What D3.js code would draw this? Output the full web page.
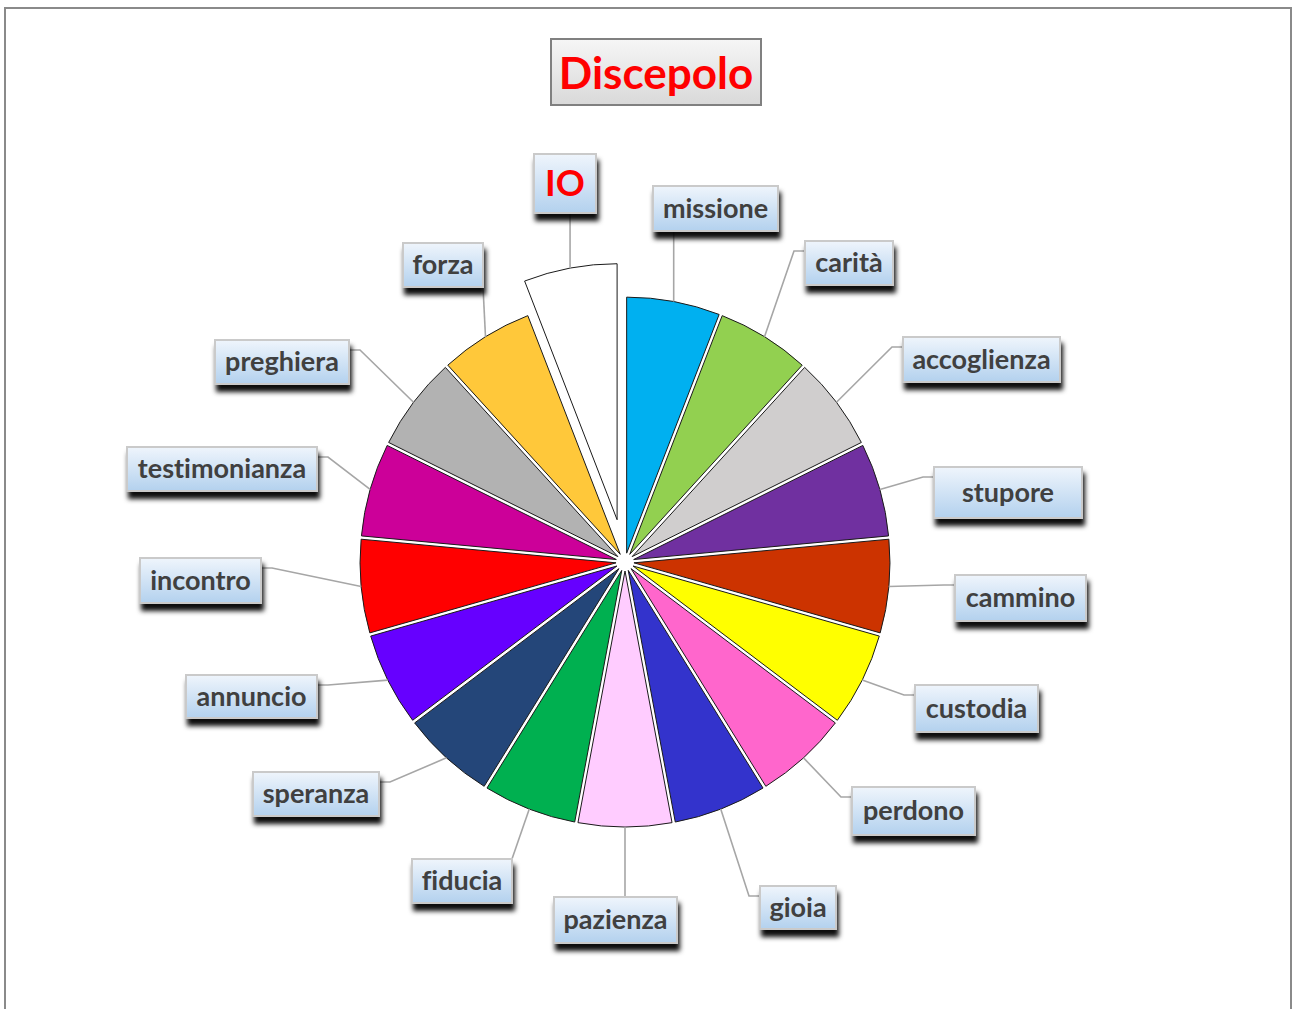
<!DOCTYPE html>
<html>
<head>
	<meta charset="utf-8">
	<script src="https://cdn.jsdelivr.net/npm/d3@7"></script>
	<style>
		body { margin: 0; background: white; }
		text { font-family: Lato, "Open Sans", sans-serif; font-weight: bold; font-variant-ligatures: none; }
	</style>
</head>
<body>
	<script>
		// slices clockwise from 12 o'clock, the exploded "IO" slice is last
		var categories = ["missione", "carità", "accoglienza", "stupore", "cammino", "custodia",
			"perdono", "gioia", "pazienza", "fiducia", "speranza", "annuncio", "incontro",
			"testimonianza", "preghiera", "forza", "IO"];
		var values = [1, 1, 1, 1, 1, 1, 1, 1, 1, 1, 1, 1, 1, 1, 1, 1, 1];
		var colors = ["#00B0F0", "#92D050", "#D0CECE", "#7030A0", "#CC3300", "#FFFF00",
			"#FF66CC", "#3333CC", "#FFCCFF", "#00B050", "#244679", "#6600FF", "#FF0000",
			"#CC0099", "#B2B2B2", "#FFC83A", "#FFFFFF"];
		var title = "Discepolo";
		var exploded = "IO";

		// label boxes: left, top, width, height, how the leader line meets the box
		var labelBoxes = {
			"IO":            [534, 154, 62, 59, "v"],
			"missione":      [653, 186, 125, 45, "v"],
			"carità":        [805, 241, 88, 44, "s"],
			"accoglienza":   [903, 337, 157, 45, "s"],
			"stupore":       [934, 467, 148, 51, "s"],
			"cammino":       [955, 575, 131, 46, "s"],
			"custodia":      [915, 685, 123, 47, "s"],
			"perdono":       [852, 787, 123, 48, "s"],
			"gioia":         [760, 886, 76, 43, "s"],
			"pazienza":      [554, 897, 123, 46, "v"],
			"fiducia":       [412, 859, 100, 44, "v"],
			"speranza":      [253, 772, 126, 44, "s"],
			"annuncio":      [186, 675, 131, 43, "s"],
			"incontro":      [140, 558, 121, 45, "s"],
			"testimonianza": [127, 447, 190, 44, "s"],
			"preghiera":     [215, 340, 134, 44, "s"],
			"forza":         [403, 243, 80, 44, "v"]
		};

		var width = 1293, height = 1009;
		var cx = 625, cy = 562, radius = 256;
		var gapShift = 9, explodeBy = 43;

		var svg = d3.select("body").append("svg")
			.attr("width", width)
			.attr("height", height);

		var defs = svg.append("defs");

		var blue = defs.append("linearGradient").attr("id", "boxGrad")
			.attr("x1", 0).attr("y1", 0).attr("x2", 0).attr("y2", 1);
		blue.append("stop").attr("offset", "0%").attr("stop-color", "#EFF5FC");
		blue.append("stop").attr("offset", "100%").attr("stop-color", "#B3D1EE");

		var grey = defs.append("linearGradient").attr("id", "titleGrad")
			.attr("x1", 0).attr("y1", 0).attr("x2", 0).attr("y2", 1);
		grey.append("stop").attr("offset", "0%").attr("stop-color", "#F6F6F6");
		grey.append("stop").attr("offset", "100%").attr("stop-color", "#D9D9D9");

		var shadow = defs.append("filter").attr("id", "shadow")
			.attr("x", "-20%").attr("y", "-20%").attr("width", "140%").attr("height", "160%");
		shadow.append("feDropShadow")
			.attr("dx", 2).attr("dy", 7)
			.attr("stdDeviation", 2.5)
			.attr("flood-color", "#000")
			.attr("flood-opacity", 0.95);

		// outer frame
		svg.append("rect")
			.attr("x", 5).attr("y", 8)
			.attr("width", 1286).attr("height", 1020)
			.attr("fill", "none")
			.attr("stroke", "#8A8A8A")
			.attr("stroke-width", 2);

		// title
		svg.append("rect")
			.attr("x", 551).attr("y", 39)
			.attr("width", 210).attr("height", 66)
			.attr("fill", "url(#titleGrad)")
			.attr("stroke", "#808080")
			.attr("stroke-width", 2);
		svg.append("text")
			.attr("x", 656).attr("y", 89)
			.attr("text-anchor", "middle")
			.attr("fill", "#FF0000")
			.style("font-size", "44px")
			.text(title);

		var pie = d3.pie().sort(null).value(function(d) { return d; });
		var arcs = pie(values);

		var arc = d3.arc()
			.innerRadius(0)
			.outerRadius(radius);

		// every slice is pushed out a little, the IO slice a lot
		function offsetOf(i) {
			var a = (arcs[i].startAngle + arcs[i].endAngle) / 2;
			var k = categories[i] === exploded ? explodeBy : gapShift;
			return [Math.sin(a) * k, -Math.cos(a) * k];
		}

		var g = svg.append("g").attr("transform", "translate(" + cx + "," + cy + ")");

		// leader lines
		var leaders = svg.append("g");
		arcs.forEach(function(d, i) {
			var a = (d.startAngle + d.endAngle) / 2;
			var off = offsetOf(i);
			var px = cx + off[0] + Math.sin(a) * radius;
			var py = cy + off[1] - Math.cos(a) * radius;
			var b = labelBoxes[categories[i]];
			var pts;
			if (b[4] === "v") {
				var x = Math.max(b[0], Math.min(b[0] + b[2], px));
				var y = py < b[1] ? b[1] : b[1] + b[3];
				pts = [[px, py], [x, y]];
			} else {
				var right = px > b[0] + b[2];
				var ex = right ? b[0] + b[2] : b[0];
				var ey = b[1] + 10;
				var sx = right ? ex + 11 : ex - 11;
				pts = [[px, py], [sx, ey], [ex, ey]];
			}
			leaders.append("path")
				.attr("d", d3.line()(pts))
				.attr("fill", "none")
				.attr("stroke", "#A6A6A6")
				.attr("stroke-width", 1.6);
		});

		g.selectAll("path.slice")
			.data(arcs)
			.enter().append("path")
			.attr("class", "slice")
			.attr("d", arc)
			.attr("transform", function(d, i) {
				var off = offsetOf(i);
				return "translate(" + off[0] + "," + off[1] + ")";
			})
			.attr("fill", function(d, i) { return colors[i]; })
			.attr("stroke", "#1A1A1A")
			.attr("stroke-width", 1);

		// label boxes
		var labels = svg.append("g");
		categories.forEach(function(name) {
			var b = labelBoxes[name];
			labels.append("rect")
				.attr("x", b[0]).attr("y", b[1])
				.attr("width", b[2]).attr("height", b[3])
				.attr("fill", "url(#boxGrad)")
				.attr("stroke", "#CACACA")
				.attr("stroke-width", 2)
				.attr("filter", "url(#shadow)");
			var isIO = name === exploded;
			labels.append("text")
				.attr("x", b[0] + b[2] / 2)
				.attr("y", b[1] + b[3] / 2 + (isIO ? 12 : 9))
				.attr("text-anchor", "middle")
				.attr("fill", isIO ? "#FF0000" : "#404040")
				.style("font-size", isIO ? "36px" : "27px")
				.text(name);
		});
	</script>
</body>
</html>
